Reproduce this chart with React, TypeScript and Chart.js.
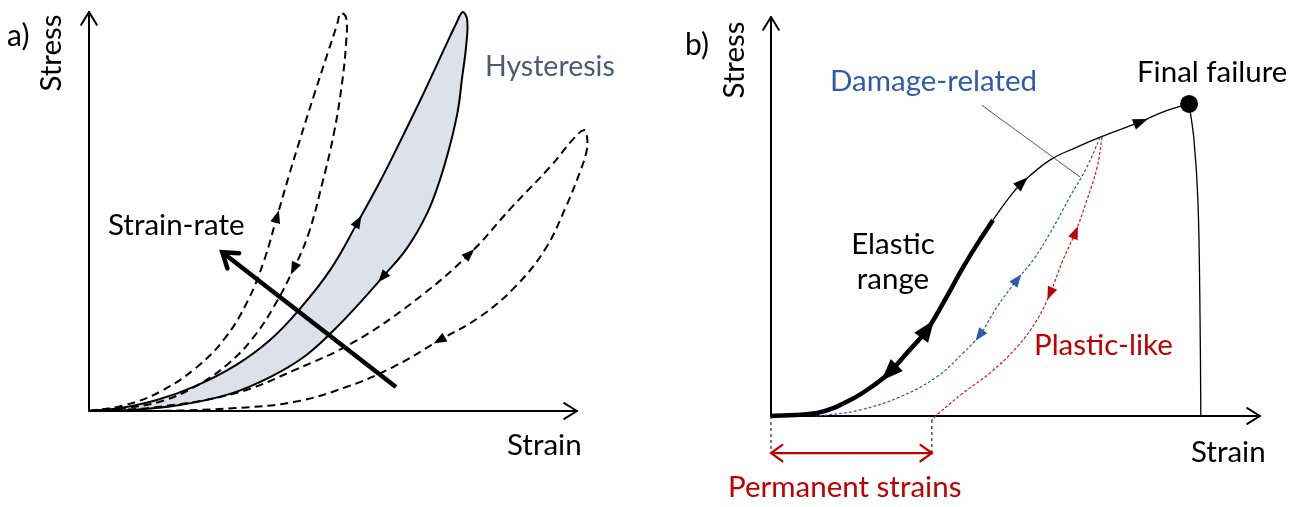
import React, { useEffect, useRef } from "react";
import { Chart, registerables } from "chart.js";

Chart.register(...registerables);

type P = [number, number];

// ---------------- Panel a) : strain-rate dependent hysteresis ----------------
// units: strain 0..100 (x-axis arrow tip), stress 0..100 (y-axis arrow tip)
const hysteresisLoading: P[] = [
  [0, 0], [6.4, 0.75], [13.9, 2.75], [21.9, 6.3], [30.1, 11.5], [37.1, 17.8], [43.0, 25.3],
  [49.4, 35.3], [55.1, 47.4], [59.8, 57.9], [63.9, 67.9], [68.4, 79.2], [72.7, 90.5],
  [75.2, 97.0], [76.6, 100.0],
];
const hysteresisUnloading: P[] = [
  [77.5, 98.0], [77.3, 91.7], [76.4, 83.0], [75.6, 75.4], [74.0, 66.7], [71.9, 57.9],
  [69.3, 49.6], [65.2, 40.9], [60.2, 33.6], [55.5, 27.1], [50.2, 20.3], [44.3, 13.8],
  [37.1, 8.5], [28.9, 4.3], [18.6, 1.5], [8.4, 0.25], [0, 0],
];
const fastLoading: P[] = [
  [0, 0], [7.4, 1.5], [14.5, 4.8], [21.9, 10.8], [27.9, 18.3], [32.6, 27.8], [35.9, 37.8],
  [38.5, 48.6], [41.0, 59.1], [43.2, 67.9], [46.3, 79.9], [49.0, 90.0], [50.8, 96.7], [51.6, 99.7],
];
const fastUnloading: P[] = [
  [52.7, 98.5], [52.7, 92.5], [51.8, 81.7], [50.2, 69.7], [47.7, 56.6], [44.9, 44.1],
  [42.0, 35.8], [38.1, 26.6], [33.6, 18.3], [28.5, 11.8], [22.3, 6.5], [15.0, 2.5],
  [7.4, 0.75], [0, 0],
];
const slowLoading: P[] = [
  [0, 0], [13.9, 1.0], [30.1, 4.5], [42.2, 10.3], [54.3, 17.3], [66.4, 27.3], [77.9, 39.3],
  [86.5, 50.9], [94.5, 61.2], [99.4, 68.4], [101.4, 70.4],
];
const slowUnloading: P[] = [
  [102.0, 69.2], [102.0, 65.4], [100.6, 59.9], [97.7, 51.1], [93.4, 40.4], [87.3, 31.1],
  [80.1, 23.6], [71.9, 17.8], [62.3, 11.0], [52.7, 6.0], [42.2, 2.3], [30.1, 0.75],
  [13.9, 0], [0, 0],
];
const strainRateArrow: P[] = [[62.9, 6.0], [27.3, 39.8]];

// ---------------- Panel b) : damage vs plastic-like behaviour ----------------
const elasticRange: P[] = [
  [0, 0], [9.4, 0.75], [16.2, 4.0], [21.7, 8.3], [24.3, 11.0], [27.8, 15.8], [31.9, 21.6],
  [35.2, 28.3], [39.3, 37.3], [42.7, 44.1], [45.4, 49.1],
];
const loadingToFailure: P[] = [
  [45.4, 49.1], [48.3, 54.1], [51.3, 58.4], [57.1, 64.2], [62.6, 67.4], [67.3, 69.9],
  [75.5, 73.7], [80.6, 76.4], [85.5, 78.2],
];
const damageUnloading: P[] = [
  [67.3, 69.9], [64.6, 62.4], [61.1, 54.9], [57.1, 45.9], [53.6, 39.1], [50.3, 34.1],
  [46.2, 27.3], [42.7, 20.3], [39.3, 15.8], [33.9, 9.8], [26.4, 4.8], [18.2, 1.5],
  [11.5, 0.25], [9.0, 0],
];
const plasticUnloading: P[] = [
  [67.7, 69.9], [66.7, 62.4], [64.6, 54.1], [62.2, 45.9], [59.7, 39.1], [57.1, 30.8],
  [54.4, 24.1], [50.3, 17.3], [44.8, 10.8], [39.3, 5.8], [33.9, 0.25], [32.9, -1.0],
];
const failureDrop: P[] = [[85.5, 78.2], [86.5, 69.2], [87.3, 54.1], [87.7, 29.1], [87.9, 0]];
const failurePoint: P[] = [[85.5, 78.2]];
const damageLeader: P[] = [[43.1, 77.9], [63.2, 59.9]];
const permanentStrain = 32.9;
const permanentLevel = -9.3;

// ---------------- helpers ----------------
const FONT = 'Lato, "Open Sans", sans-serif';
const FS = 29.5;
const RED = "#c00000";
const BLUE = "#2f5ca8";

const pts = (a: P[]) => a.map(([x, y]) => ({ x, y }));

function line(data: P[], extra: any = {}) {
  return {
    data: pts(data),
    borderColor: "#000",
    backgroundColor: "#000",
    borderWidth: 2,
    pointRadius: 0,
    tension: 0.4,
    fill: false,
    clip: false,
    ...extra,
  };
}

function vHead(ctx: CanvasRenderingContext2D, tx: number, ty: number, ux: number, uy: number, arm: number, half: number) {
  const c = Math.cos(half), s = Math.sin(half);
  const bx = -ux, by = -uy;
  const a1x = bx * c - by * s, a1y = bx * s + by * c;
  const a2x = bx * c + by * s, a2y = -bx * s + by * c;
  ctx.beginPath();
  ctx.moveTo(tx + a1x * arm, ty + a1y * arm);
  ctx.lineTo(tx, ty);
  ctx.lineTo(tx + a2x * arm, ty + a2y * arm);
  ctx.stroke();
}

const axesPlugin = {
  id: "arrowAxes",
  beforeDatasetsDraw(chart: any) {
    const { ctx, scales } = chart;
    const x = scales.x, y = scales.y;
    const x0 = x.getPixelForValue(0), y0 = y.getPixelForValue(0);
    const xe = x.getPixelForValue(x.max), ye = y.getPixelForValue(y.max);
    ctx.save();
    ctx.strokeStyle = "#000";
    ctx.lineWidth = 2;
    ctx.lineCap = "round";
    ctx.lineJoin = "round";
    ctx.beginPath();
    ctx.moveTo(x0, y0);
    ctx.lineTo(x0, ye);
    ctx.moveTo(x0, y0);
    ctx.lineTo(xe, y0);
    ctx.stroke();
    vHead(ctx, x0, ye, 0, -1, 15, 0.55);
    vHead(ctx, xe, y0, 1, 0, 15, 0.55);
    ctx.restore();
  },
};

const arrowPlugin = {
  id: "arrowMarks",
  afterDatasetsDraw(chart: any) {
    const ctx: CanvasRenderingContext2D = chart.ctx;
    chart.data.datasets.forEach((ds: any, di: number) => {
      const el = chart.getDatasetMeta(di).data as any[];
      if (ds.arrows) {
        for (const [i, dir] of ds.arrows as [number, number][]) {
          const p = el[i], a = el[Math.max(0, i - 1)], b = el[Math.min(el.length - 1, i + 1)];
          let dx = (b.x - a.x) * dir, dy = (b.y - a.y) * dir;
          const len = Math.hypot(dx, dy) || 1;
          dx /= len; dy /= len;
          const L = ds.arrowLen, W = ds.arrowWidth;
          const tx = p.x + dx * L * 0.55, ty = p.y + dy * L * 0.55;
          const bx = p.x - dx * L * 0.45, by = p.y - dy * L * 0.45;
          ctx.save();
          ctx.fillStyle = ds.arrowColor || ds.borderColor;
          ctx.beginPath();
          ctx.moveTo(tx, ty);
          ctx.lineTo(bx - dy * W / 2, by + dx * W / 2);
          ctx.lineTo(bx + dy * W / 2, by - dx * W / 2);
          ctx.closePath();
          ctx.fill();
          ctx.restore();
        }
      }
      if (ds.openHead) {
        ctx.save();
        ctx.strokeStyle = ds.borderColor;
        ctx.lineWidth = ds.borderWidth;
        ctx.lineCap = "round";
        ctx.lineJoin = "miter";
        const n = el.length;
        const heads: [any, any][] = [];
        if (ds.openHead === "end" || ds.openHead === "both") heads.push([el[n - 1], el[n - 2]]);
        if (ds.openHead === "both") heads.push([el[0], el[1]]);
        for (const [tip, prev] of heads) {
          const ux = tip.x - prev.x, uy = tip.y - prev.y;
          const l = Math.hypot(ux, uy) || 1;
          vHead(ctx, tip.x, tip.y, ux / l, uy / l, ds.headArm, ds.headHalf);
        }
        ctx.restore();
      }
    });
  },
};

type Label = { text: string; x: number; y: number; color?: string; align?: CanvasTextAlign; rotate?: boolean; size?: number };

function labelPlugin(labels: Label[]) {
  return {
    id: "textLabels",
    afterDraw(chart: any) {
      const ctx: CanvasRenderingContext2D = chart.ctx;
      ctx.save();
      for (const l of labels) {
        ctx.font = `${l.size ?? FS}px ${FONT}`;
        ctx.fillStyle = l.color ?? "#000";
        if (l.rotate) {
          ctx.save();
          ctx.translate(l.x, l.y);
          ctx.rotate(-Math.PI / 2);
          ctx.textAlign = "center";
          ctx.textBaseline = "middle";
          ctx.fillText(l.text, 0, 0);
          ctx.restore();
        } else {
          ctx.textAlign = l.align ?? "left";
          ctx.textBaseline = "alphabetic";
          ctx.fillText(l.text, l.x, l.y);
        }
      }
      ctx.restore();
    },
  };
}

function baseOptions(padding: any) {
  return {
    responsive: false,
    animation: false as const,
    events: [] as any[],
    layout: { padding },
    plugins: { legend: { display: false }, tooltip: { enabled: false } },
    scales: {
      x: { type: "linear" as const, min: 0, max: 100, display: false },
      y: { type: "linear" as const, min: 0, max: 100, display: false },
    },
  };
}

const W = 648, H = 507;

export default function App() {
  const leftRef = useRef<HTMLCanvasElement>(null);
  const rightRef = useRef<HTMLCanvasElement>(null);

  useEffect(() => {
    document.body.style.margin = "0";
    const dashA = [8, 5];
    const left = new Chart(leftRef.current!, {
      type: "line",
      data: {
        datasets: [
          line(strainRateArrow, { borderWidth: 4.5, tension: 0, openHead: "end", headArm: 17, headHalf: 0.6 }),
          line([...fastLoading, ...fastUnloading], {
            borderDash: dashA, arrows: [[7, 1], [20, 1]], arrowLen: 13, arrowWidth: 10,
          }),
          line([...slowLoading, ...slowUnloading], {
            borderDash: dashA, arrows: [[6, 1], [18, 1]], arrowLen: 13, arrowWidth: 10,
          }),
          line([...hysteresisLoading, ...hysteresisUnloading], {
            fill: "shape", backgroundColor: "#dde2ea", arrows: [[8, 1], [23, 1]], arrowLen: 13, arrowWidth: 10,
          }),
        ] as any,
      },
      options: baseOptions({ left: 89, right: W - 577, top: 12, bottom: H - 411 }) as any,
      plugins: [
        axesPlugin,
        arrowPlugin,
        labelPlugin([
          { text: "a)", x: 7, y: 46, size: 30 },
          { text: "Stress", x: 51, y: 53, rotate: true },
          { text: "Hysteresis", x: 485, y: 76, color: "#4a5a78", size: 28.5 },
          { text: "Strain-rate", x: 108, y: 235 },
          { text: "Strain", x: 507, y: 455 },
        ]),
      ],
    });

    const right = new Chart(rightRef.current!, {
      type: "line",
      data: {
        datasets: [
          line(failurePoint, { showLine: false, pointRadius: 9, pointBackgroundColor: "#000", pointBorderWidth: 0 }),
          line(elasticRange, {
            borderWidth: 4.5, arrows: [[4, -1], [6, 1]], arrowLen: 22, arrowWidth: 17,
          }),
          line(loadingToFailure, { borderWidth: 1.3, arrows: [[2, 1], [6, 1]], arrowLen: 15, arrowWidth: 11 }),
          line(damageUnloading, {
            borderColor: BLUE, borderWidth: 1.2, borderDash: [3, 2],
            arrows: [[5, -1], [7, 1]], arrowLen: 13, arrowWidth: 10,
          }),
          line(plasticUnloading, {
            borderColor: "#e01010", borderWidth: 1.2, borderDash: [3, 2],
            arrows: [[3, -1], [5, 1]], arrowLen: 13, arrowWidth: 10, arrowColor: RED,
          }),
          line(failureDrop, { borderWidth: 1.3 }),
          line(damageLeader, { borderColor: "#555", borderWidth: 1, tension: 0 }),
          line([[0, 0], [0, permanentLevel + 0.3]], { borderWidth: 1, borderDash: [3, 3], tension: 0 }),
          line([[permanentStrain, -1], [permanentStrain, permanentLevel + 0.3]], { borderWidth: 1, borderDash: [3, 3], tension: 0 }),
          line([[0, permanentLevel], [permanentStrain, permanentLevel]], {
            borderColor: RED, borderWidth: 2.2, tension: 0, openHead: "both", headArm: 14, headHalf: 0.62,
          }),
        ] as any,
      },
      options: baseOptions({ left: 123, right: 36, top: 17, bottom: H - 416 }) as any,
      plugins: [
        axesPlugin,
        arrowPlugin,
        labelPlugin([
          { text: "b)", x: 37, y: 55, size: 30 },
          { text: "Stress", x: 86, y: 60, rotate: true },
          { text: "Damage-related", x: 182, y: 91, color: BLUE },
          { text: "Final failure", x: 489, y: 82 },
          { text: "Elastic", x: 245, y: 254, align: "center" },
          { text: "range", x: 245, y: 289, align: "center" },
          { text: "Plastic-like", x: 386, y: 355, color: RED },
          { text: "Strain", x: 543, y: 462 },
          { text: "Permanent strains", x: 80, y: 497, color: RED },
        ]),
      ],
    });

    return () => {
      left.destroy();
      right.destroy();
    };
  }, []);

  return (
    <div style={{ position: "relative", width: 1296, height: 507, background: "#fff" }}>
      <canvas ref={leftRef} width={W} height={H} style={{ position: "absolute", left: 0, top: 0 }} />
      <canvas ref={rightRef} width={W} height={H} style={{ position: "absolute", left: 648, top: 0 }} />
    </div>
  );
}
